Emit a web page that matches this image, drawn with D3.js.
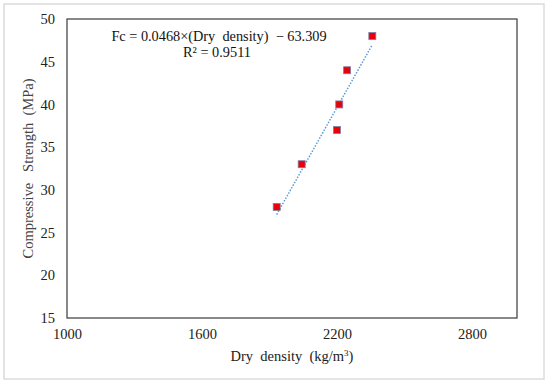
<!DOCTYPE html>
<html>
<head>
<meta charset="utf-8">
<script src="https://cdn.jsdelivr.net/npm/d3@7"></script>
<style>
  html, body { margin: 0; padding: 0; background: #fff; }
  text { font-family: "Liberation Serif", "Times New Roman", serif; white-space: pre; }
</style>
</head>
<body>
<svg id="chart" width="550" height="385"></svg>
<script>
// data
const dryDensity = [1932, 2043, 2200, 2210, 2245, 2357];
const strength   = [28, 33, 37, 40, 44, 48];
const xTicks = [1000, 1600, 2200, 2800];
const yTicks = [15, 20, 25, 30, 35, 40, 45, 50];
const trendSlope = 0.0468;
const trendIntercept = -63.309;

const svg = d3.select('#chart');
const margin = {left: 67, right: 33, top: 19, bottom: 67};
const W = 550, H = 385;

// outer light frame
svg.append('rect')
    .attr('x', 4).attr('y', 4)
    .attr('width', 540).attr('height', 375)
    .attr('fill', '#fff')
    .attr('stroke', '#dcdcdc')
    .attr('stroke-width', 1.5);

const x = d3.scaleLinear().domain([1000, 3000]).range([margin.left, W - margin.right]);
const y = d3.scaleLinear().domain([15, 50]).range([H - margin.bottom, margin.top]);

// x axis labels
const xAxis = svg.append('g')
    .attr('transform', `translate(0,${H - margin.bottom})`)
    .call(d3.axisBottom(x).tickValues(xTicks).tickFormat(d3.format('d')).tickSize(0).tickPadding(11));
xAxis.select('.domain').remove();
xAxis.selectAll('text')
    .attr('font-size', 14.5)
    .attr('fill', '#222');

// y axis labels
const yAxis = svg.append('g')
    .attr('transform', `translate(${margin.left},0)`)
    .call(d3.axisLeft(y).tickValues(yTicks).tickSize(0).tickPadding(12));
yAxis.select('.domain').remove();
yAxis.selectAll('text')
    .attr('font-size', 14.5)
    .attr('fill', '#222');

// plot border
svg.append('rect')
    .attr('x', x(1000)).attr('y', y(50))
    .attr('width', x(3000) - x(1000))
    .attr('height', y(15) - y(50))
    .attr('fill', 'none')
    .attr('stroke', '#3a3a3a')
    .attr('stroke-width', 1.2);

// trend line (dotted), drawn over the data range
const xMin = d3.min(dryDensity), xMax = d3.max(dryDensity);
svg.append('line')
    .attr('x1', x(xMin)).attr('y1', y(trendSlope * xMin + trendIntercept))
    .attr('x2', x(xMax)).attr('y2', y(trendSlope * xMax + trendIntercept))
    .attr('stroke', '#5b9bd5')
    .attr('stroke-width', 1.5)
    .attr('stroke-dasharray', '1.5,1.5');

// square markers
const pts = dryDensity.map((d, i) => ({x: d, y: strength[i]}));
const s = 7;
svg.selectAll('.pt').data(pts).enter().append('rect')
    .attr('class', 'pt')
    .attr('x', d => x(d.x) - s / 2)
    .attr('y', d => y(d.y) - s / 2)
    .attr('width', s).attr('height', s)
    .attr('fill', '#e8000b')
    .attr('stroke', '#7a7fa8')
    .attr('stroke-width', 0.8);

// equation
svg.append('text')
    .attr('x', 219).attr('y', 41)
    .attr('text-anchor', 'middle')
    .attr('font-size', 14.3)
    .attr('fill', '#111')
    .text('Fc = 0.0468×(Dry  density)  − 63.309');
svg.append('text')
    .attr('x', 217).attr('y', 56.5)
    .attr('text-anchor', 'middle')
    .attr('font-size', 14.3)
    .attr('fill', '#111')
    .text('R² = 0.9511');

// axis titles
svg.append('text')
    .attr('x', x(2000)).attr('y', 361)
    .attr('text-anchor', 'middle')
    .attr('font-size', 14.5)
    .attr('fill', '#222')
    .html('Dry  density  (kg/m<tspan baseline-shift="super" font-size="9">3</tspan>)');

svg.append('text')
    .attr('transform', `translate(33,${(y(15) + y(50)) / 2}) rotate(-90)`)
    .attr('text-anchor', 'middle')
    .attr('font-size', 14.5)
    .attr('fill', '#444')
    .text('Compressive   Strength  (MPa)');
</script>
</body>
</html>
